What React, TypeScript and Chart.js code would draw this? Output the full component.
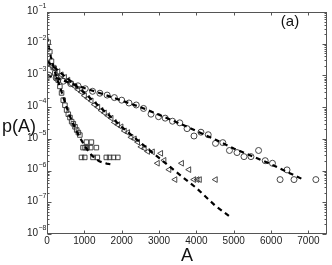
import React, { useEffect, useRef } from "react";
import { Chart, registerables } from "chart.js";

Chart.register(...registerables);

// ---- data ----
const circleX = [50, 245, 440, 635, 830, 1025, 1220, 1415, 1610, 1805, 2000, 2195, 2390, 2585, 2785, 2987, 3165, 3360, 3555, 3750, 3936, 4122, 4317, 4512, 4707, 4885, 5088, 5275, 5461, 5665, 5843, 6037, 6241, 6427, 6614, 7199];
const circleP = [1.02e-3, 8.3e-4, 6.6e-4, 5.5e-4, 4.7e-4, 3.8e-4, 3.16e-4, 2.75e-4, 2.4e-4, 2.0e-4, 1.66e-4, 1.35e-4, 1.17e-4, 9.1e-5, 6.0e-5, 5.0e-5, 4.5e-5, 3.6e-5, 3.2e-5, 2.1e-5, 1.23e-5, 1.62e-5, 1.35e-5, 7.2e-6, 7.6e-6, 4.3e-6, 3.7e-6, 2.75e-6, 2.75e-6, 4.3e-6, 2.05e-6, 1.7e-6, 5.2e-7, 1.05e-6, 5.2e-7, 5.2e-7];

const triX = [30, 119, 208, 297, 386, 475, 564, 653, 742, 831, 920, 1009, 1098, 1187, 1276, 1365, 1454, 1543, 1632, 1721, 1810, 1899, 1988, 2077, 2166, 2255, 2344, 2433, 2522, 2611, 2700, 2828, 2961, 3050, 3138, 3271, 3431, 3608, 3803, 3936, 4024, 4087, 4513];
const triP = [2.51e-3, 2.0e-3, 1.62e-3, 1.32e-3, 1.05e-3, 8.7e-4, 7.1e-4, 5.4e-4, 4.5e-4, 3.6e-4, 3.0e-4, 2.3e-4, 1.9e-4, 1.58e-4, 1.2e-4, 1.0e-4, 7.9e-5, 6.6e-5, 5.4e-5, 4.5e-5, 3.3e-5, 2.8e-5, 2.4e-5, 1.78e-5, 1.58e-5, 1.12e-5, 1.0e-5, 7.9e-6, 5.6e-6, 5.0e-6, 4.0e-6, 3.9e-6, 1.7e-6, 3.5e-6, 2.1e-6, 1.07e-6, 5.2e-7, 1.7e-6, 1.07e-6, 5.2e-7, 5.2e-7, 5.2e-7, 5.2e-7];

const sqX = [30, 75, 120, 165, 210, 255, 300, 345, 390, 435, 480, 525, 570, 615, 660, 705, 750, 795, 840, 880, 1056, 1189, 965, 1020, 1072, 1170, 1322, 923, 1011, 1231, 1348, 1588, 1676, 1782, 1896];
const sqP = [1.12e-2, 5.6e-3, 2.8e-3, 1.78e-3, 1.2e-3, 8.9e-4, 7.1e-4, 4.5e-4, 2.8e-4, 1.66e-4, 1.15e-4, 8.1e-5, 6.0e-5, 4.7e-5, 3.5e-5, 3.0e-5, 2.4e-5, 1.9e-5, 1.58e-5, 1.32e-5, 7.9e-6, 7.9e-6, 5.3e-6, 5.3e-6, 5.3e-6, 5.3e-6, 5.3e-6, 2.6e-6, 2.6e-6, 2.6e-6, 2.6e-6, 2.6e-6, 2.6e-6, 2.6e-6, 2.6e-6];

const fitCircleX = [0, 500, 1000, 1500, 2000, 2500, 3000, 3500, 4000, 4500, 5000, 5500, 6000, 6500, 6835];
const fitCircleP = [1.05e-3, 6.5e-4, 4.0e-4, 2.57e-4, 1.62e-4, 1.0e-4, 5.75e-5, 3.24e-5, 1.78e-5, 9.5e-6, 5.0e-6, 2.82e-6, 1.58e-6, 8.3e-7, 5.4e-7];

const fitTriX = [0, 1000, 2000, 2500, 3000, 3500, 4000, 4500, 4870];
const fitTriP = [2.82e-3, 2.82e-4, 2.4e-5, 7.6e-6, 2.5e-6, 8.3e-7, 2.82e-7, 7.9e-8, 3.7e-8];

const fitSqX = [0, 50, 100, 200, 300, 400, 500, 600, 700, 800, 900, 1000, 1100, 1200, 1300, 1400, 1500, 1600, 1700, 1800];
const fitSqP = [1.66e-2, 7.9e-3, 4.0e-3, 1.41e-3, 6.3e-4, 2.8e-4, 1.2e-4, 5.6e-5, 3.0e-5, 1.66e-5, 1.0e-5, 6.3e-6, 4.2e-6, 3.0e-6, 2.35e-6, 1.95e-6, 1.78e-6, 1.66e-6, 1.58e-6, 1.51e-6];

const xTicks = [0, 1000, 2000, 3000, 4000, 5000, 6000, 7000];
const yExponents = [-8, -7, -6, -5, -4, -3, -2, -1];

const xTitle = "A";
const yTitle = "p(A)";
const panelLabel = "(a)";

const pts = (xs: number[], ys: number[]) => xs.map((x, i) => ({ x, y: ys[i] }));

const FONT = "'Liberation Sans', Arial, Helvetica, sans-serif";

const framePlugin = {
  id: "frame",
  afterDraw(chart: any) {
    const ctx = chart.ctx as CanvasRenderingContext2D;
    const { left, right, top, bottom } = chart.chartArea;
    const xs = chart.scales.x;
    const ys = chart.scales.y;
    ctx.save();
    ctx.strokeStyle = "#555";
    ctx.lineWidth = 1;
    const L = Math.round(left) + 0.5;
    const R = Math.round(right) - 0.5;
    const T = Math.round(top) + 0.5;
    const B = Math.round(bottom) - 0.5;
    ctx.strokeRect(L, T, R - L, B - T);
    ctx.beginPath();
    for (const v of xTicks) {
      const px = Math.round(xs.getPixelForValue(v)) + 0.5;
      ctx.moveTo(px, B);
      ctx.lineTo(px, B - 3);
      ctx.moveTo(px, T);
      ctx.lineTo(px, T + 3);
    }
    for (const e of yExponents) {
      const py = Math.round(ys.getPixelForValue(Math.pow(10, e))) + 0.5;
      ctx.moveTo(L, py);
      ctx.lineTo(L + 4, py);
      ctx.moveTo(R, py);
      ctx.lineTo(R - 4, py);
      if (e < -1) {
        for (let m = 2; m <= 9; m++) {
          const pm = Math.round(ys.getPixelForValue(m * Math.pow(10, e))) + 0.5;
          ctx.moveTo(L, pm);
          ctx.lineTo(L + 2, pm);
          ctx.moveTo(R, pm);
          ctx.lineTo(R - 2, pm);
        }
      }
    }
    ctx.stroke();

    ctx.fillStyle = "#222";
    ctx.font = `10px ${FONT}`;
    ctx.textAlign = "center";
    ctx.textBaseline = "middle";
    for (const v of xTicks) {
      const px = xs.getPixelForValue(v);
      ctx.fillText(String(v), px, B + 8);
    }
    for (const e of yExponents) {
      const py = ys.getPixelForValue(Math.pow(10, e));
      ctx.font = `10px ${FONT}`;
      ctx.textAlign = "right";
      ctx.fillText("10", 38, py - 1);
      ctx.font = `7px ${FONT}`;
      ctx.textAlign = "left";
      ctx.fillText("\u2212" + String(-e), 38.5, py - 6);
    }
    ctx.fillStyle = "#111";
    ctx.font = `18px ${FONT}`;
    ctx.textAlign = "center";
    ctx.fillText(xTitle, (left + right) / 2, 256);
    ctx.fillText(yTitle, 19, 127);
    ctx.font = `15px ${FONT}`;
    ctx.fillText(panelLabel, 290, 22);
    ctx.restore();
  },
};

export default function App() {
  const ref = useRef<HTMLCanvasElement | null>(null);
  useEffect(() => {
    if (!ref.current) return;
    const fitStyle = {
      showLine: true,
      borderColor: "#000",
      borderWidth: 2.2,
      borderDash: [5, 4],
      pointRadius: 0,
      fill: false,
    };
    const chart = new Chart(ref.current, {
      type: "scatter",
      data: {
        datasets: [
          { ...fitStyle, data: pts(fitCircleX, fitCircleP) },
          { ...fitStyle, data: pts(fitTriX, fitTriP) },
          { ...fitStyle, data: pts(fitSqX, fitSqP) },
          {
            data: pts(circleX, circleP),
            pointStyle: "circle",
            pointRadius: 3,
            borderColor: "#333",
            backgroundColor: "rgba(0,0,0,0)",
            borderWidth: 0.9,
          },
          {
            data: pts(triX, triP),
            pointStyle: "triangle",
            rotation: -90,
            pointRadius: 3.3,
            borderColor: "#333",
            backgroundColor: "rgba(0,0,0,0)",
            borderWidth: 0.9,
          },
          {
            data: pts(sqX, sqP),
            pointStyle: "rect",
            pointRadius: 3.2,
            borderColor: "#333",
            backgroundColor: "rgba(0,0,0,0)",
            borderWidth: 0.9,
          },
        ] as any,
      },
      options: {
        animation: false,
        responsive: false,
        maintainAspectRatio: false,
        events: [],
        layout: { padding: { top: 12, right: 3, left: 0, bottom: 0 } },
        plugins: { legend: { display: false }, tooltip: { enabled: false } },
        scales: {
          x: {
            type: "linear",
            min: 0,
            max: 7500,
            grid: { display: false },
            border: { display: false },
            ticks: { display: false },
            afterFit: (s: any) => {
              s.height = 31;
            },
          },
          y: {
            type: "logarithmic",
            min: 1e-8,
            max: 1e-1,
            grid: { display: false },
            border: { display: false },
            ticks: { display: false },
            afterFit: (s: any) => {
              s.width = 47;
            },
          },
        },
      } as any,
      plugins: [framePlugin],
    });
    return () => chart.destroy();
  }, []);
  return (
    <div style={{ position: "fixed", left: 0, top: 0, width: 332, height: 265, background: "#fff" }}>
      <canvas ref={ref} width={332} height={265} style={{ width: 332, height: 265 }} />
    </div>
  );
}
